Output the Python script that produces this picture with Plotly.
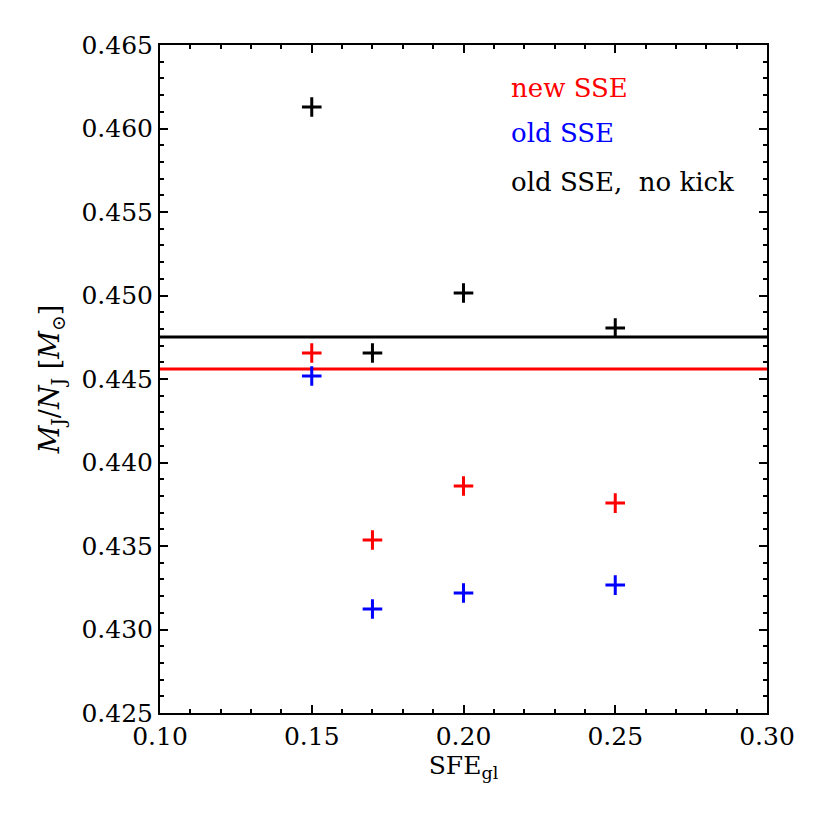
import plotly.graph_objects as go

sfe = [0.15, 0.17, 0.20, 0.25]
new_sse = [0.44656, 0.43536, 0.43859, 0.43757]
old_sse = [0.44518, 0.43123, 0.43219, 0.43266]
old_sse_nokick = [0.46129, 0.44656, 0.45015, 0.44805]
level_nokick = 0.44751
level_new = 0.44560
x_range = [0.10, 0.30]
y_range = [0.425, 0.465]

font = "DejaVu Serif"

fig = go.Figure()

# horizontal reference levels
fig.add_trace(go.Scatter(x=x_range, y=[level_nokick, level_nokick], mode="lines",
                         line=dict(color="black", width=3), showlegend=False))
fig.add_trace(go.Scatter(x=x_range, y=[level_new, level_new], mode="lines",
                         line=dict(color="red", width=3), showlegend=False))

for vals, col in [(new_sse, "red"), (old_sse, "blue"), (old_sse_nokick, "black")]:
    fig.add_trace(go.Scatter(x=sfe, y=vals, mode="markers",
                             marker=dict(symbol="cross-thin", size=14, color=col,
                                         line=dict(color=col, width=3)),
                             showlegend=False))

labels = [("new SSE", "red"), ("old SSE", "blue"), ("old SSE,  no kick", "black")]
label_y = [0.935, 0.868, 0.795]
for (txt, col), ly in zip(labels, label_y):
    fig.add_annotation(x=0.575, y=ly, xref="paper", yref="paper",
                       text=txt, showarrow=False, xanchor="left", yanchor="middle",
                       font=dict(family=font, size=26, color=col))

fig.update_layout(
    width=830, height=830, plot_bgcolor="white", paper_bgcolor="white",
    margin=dict(l=152, r=71, t=37, b=125),
    font=dict(family=font, size=25, color="black"),
)
fig.update_xaxes(
    range=x_range, dtick=0.05, tickformat=".2f",
    showgrid=False, zeroline=False, showline=True, linecolor="black",
    linewidth=2, mirror="ticks", ticks="inside", tickwidth=2, ticklen=8,
    tickcolor="black",
    tickfont_family=font, tickfont_size=25, tickfont_color="black",
    minor=dict(dtick=0.01, ticks="inside", ticklen=4, tickwidth=1.5,
               tickcolor="black"),
    title=dict(text="SFE<sub>gl</sub>", font=dict(family=font, size=25),
               standoff=4),
)
fig.update_yaxes(
    range=y_range, dtick=0.005, tickformat=".3f",
    showgrid=False, zeroline=False, showline=True, linecolor="black",
    linewidth=2, mirror="ticks", ticks="inside", tickwidth=2, ticklen=8,
    tickcolor="black",
    tickfont_family=font, tickfont_size=25, tickfont_color="black",
    minor=dict(dtick=0.001, ticks="inside", ticklen=4, tickwidth=1.5,
               tickcolor="black"),
    title=dict(text="<i>M</i><sub>J</sub>/<i>N</i><sub>J</sub> [<i>M</i><sub>⊙</sub>]",
               font=dict(family=font, size=27), standoff=14),
)

fig.write_html("out.html")
